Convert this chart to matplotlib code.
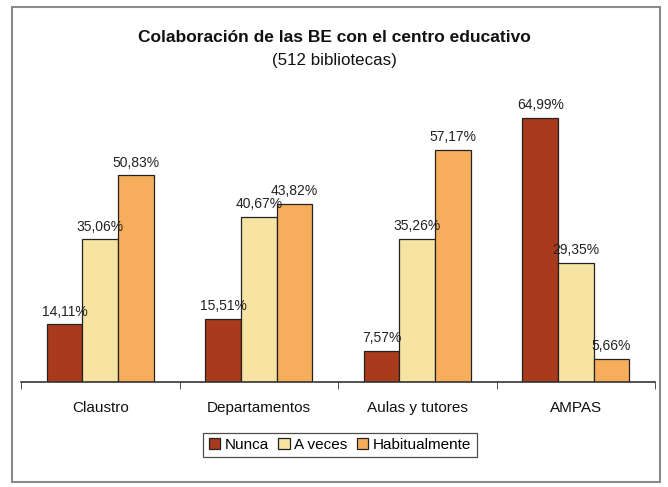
import matplotlib
matplotlib.use("Agg")
import matplotlib.pyplot as plt
from matplotlib.patches import Rectangle
import numpy as np

plt.rcParams['font.family'] = ['Liberation Sans', 'DejaVu Sans']

categories = ["Claustro", "Departamentos", "Aulas y tutores", "AMPAS"]
series_names = ["Nunca", "A veces", "Habitualmente"]
nunca = [14.11, 15.51, 7.57, 64.99]
a_veces = [35.06, 40.67, 35.26, 29.35]
habitualmente = [50.83, 43.82, 57.17, 5.66]
values = [nunca, a_veces, habitualmente]
colors = ["#A93A1C", "#F7E4A2", "#F6AE5C"]

def fmt(v):
    return f"{v:.2f}".replace(".", ",") + "%"

W, H = 668, 487
fig = plt.figure(figsize=(W / 100, H / 100), dpi=100)
fig.patch.set_facecolor("white")

# outer border
fig.patches.append(Rectangle((12 / W, 1 - 482 / H), (660 - 12) / W, (482 - 7) / H,
                             transform=fig.transFigure, fill=False,
                             edgecolor="#8a8a8a", linewidth=1.5))

left, right = 21 / W, 655 / W
bottom = 1 - 381.7 / H
ymax = 70
top_px = 381.7 - ymax * 4.058
top = 1 - top_px / H
ax = fig.add_axes([left, bottom, right - left, top - bottom])

x = np.arange(len(categories))
bw = 0.224
for i, (vals, name, col) in enumerate(zip(values, series_names, colors)):
    pos = x + (i - 1) * bw
    bars = ax.bar(pos, vals, width=bw, color=col, edgecolor="#222222",
                  linewidth=0.9, label=name)
    for b, v in zip(bars, vals):
        ax.annotate(fmt(v), (b.get_x() + b.get_width() / 2, v),
                    xytext=(0, 4), textcoords="offset points",
                    ha="center", va="bottom", fontsize=10, color="#222222")

ax.set_xlim(-0.5, len(categories) - 0.5)
ax.set_ylim(0, ymax)
for s in ["top", "right", "left"]:
    ax.spines[s].set_visible(False)
ax.spines["bottom"].set_color("#333333")
ax.spines["bottom"].set_linewidth(1.2)
ax.set_yticks([])
ax.set_xticks(np.arange(len(categories) + 1) - 0.5, minor=True)
ax.set_xticks(x)
ax.set_xticklabels(categories, fontsize=11, color="#111111")
ax.tick_params(axis="x", which="major", length=0, pad=14)
ax.tick_params(axis="x", which="minor", length=5, color="#333333", direction="out")
ax.patch.set_alpha(0)

fig.text(0.5, 1 - 38 / H, "Colaboración de las BE con el centro educativo",
         ha="center", va="center", fontsize=12.5, fontweight="bold", color="#111111")
fig.text(0.5, 1 - 61 / H, "(512 bibliotecas)", ha="center", va="center",
         fontsize=12.2, color="#111111")

leg = fig.legend(loc="center", bbox_to_anchor=(340 / W, 1 - 445 / H), ncol=3,
                 fontsize=11, frameon=True, fancybox=False, handlelength=0.75,
                 handleheight=0.75, handletextpad=0.3, columnspacing=0.6,
                 borderpad=0.35, borderaxespad=0)
leg.get_frame().set_edgecolor("#222222")
leg.get_frame().set_linewidth(0.9)

fig.savefig("out.png", dpi=100)
